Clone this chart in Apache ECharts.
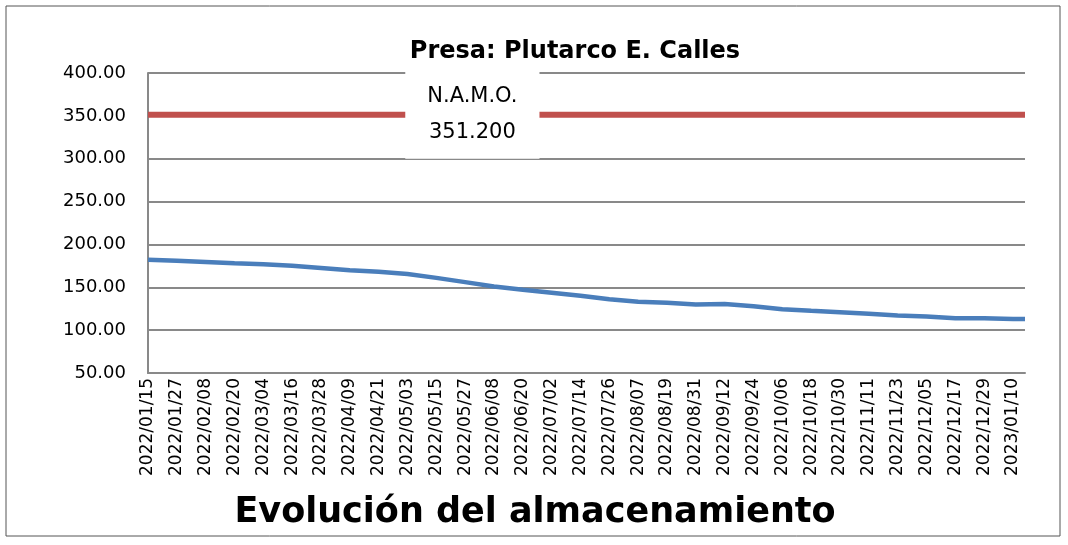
<!DOCTYPE html>
<html><head><meta charset="utf-8">
<script src="https://cdn.jsdelivr.net/npm/echarts@6/dist/echarts.min.js"></script>
<style>html,body{margin:0;background:#fff}#c{width:1068px;height:545px}</style>
</head><body><div id="c"></div>
<script>
// Daily categories 2022/01/15 .. 2023/01/15
const startDate = new Date(Date.UTC(2022,0,15));
const dayCount = 366;
const categories = [];
for (let i=0;i<dayCount;i++){const d=new Date(startDate.getTime()+i*86400000);
 categories.push(d.getUTCFullYear()+'/'+String(d.getUTCMonth()+1).padStart(2,'0')+'/'+String(d.getUTCDate()).padStart(2,'0'));}
// Storage values read at each labelled date (every 12 days) plus final day
const sampleIndex = [0,12,24,36,48,60,72,84,96,108,120,132,144,156,168,180,192,204,216,228,240,252,264,276,288,300,312,324,336,348,360,365];
const sampleValues = [182,181,179.5,178,177,175,172.5,170,168,165.5,161,156,151,147,143.5,140,136,133,132,130,130.5,128,124.5,122.5,121,119,117,116,114,114,113,113];
const namoValue = 351.2;
const namoLabel = 'N.A.M.O.\n351.200';

const storage = new Array(dayCount).fill(null);
sampleIndex.forEach((ix,k)=>storage[ix]=sampleValues[k]);
const namo = categories.map(()=>namoValue);
const labelIdx = 135;

const chart = echarts.init(document.getElementById('c'));
chart.setOption({
 animation:false,
 title:[{text:'Presa: Plutarco E. Calles',left:570,top:35,textAlign:'center',textStyle:{fontFamily:'DejaVu Sans',fontSize:24,fontWeight:'bold',color:'#000'}},
        {text:'Evolución del almacenamiento',left:530,top:490,textAlign:'center',textStyle:{fontFamily:'DejaVu Sans',fontSize:35,fontWeight:'bold',color:'#000'}}],
 graphic:[{type:'rect',shape:{x:6,y:6,width:1054,height:530},style:{fill:'none',stroke:'#555',lineWidth:1}}],
 grid:{left:148,right:43,top:73,bottom:172},
 xAxis:{type:'category',data:categories,boundaryGap:false,
  axisLine:{lineStyle:{color:'#898989',width:2}},axisTick:{show:false},
  axisLabel:{interval:11,rotate:90,fontFamily:'DejaVu Sans',fontSize:17,color:'#000',margin:5},
  splitLine:{show:false}},
 yAxis:{type:'value',min:50,max:400,interval:50,
  axisLine:{show:true,lineStyle:{color:'#898989',width:2}},axisTick:{show:false},
  axisLabel:{formatter:v=>v.toFixed(2),fontFamily:'DejaVu Sans',fontSize:18,color:'#000',margin:22},
  splitLine:{lineStyle:{color:'#898989',width:2}}},
 series:[
  {type:'line',data:namo,symbol:'none',lineStyle:{color:'#c0504d',width:6},
   markPoint:{symbol:'rect',symbolSize:1,itemStyle:{color:'rgba(0,0,0,0)'},
    data:[{coord:[labelIdx,namoValue],value:namoValue}],
    label:{show:true,formatter:namoLabel,position:'inside',color:'#000',fontFamily:'DejaVu Sans',fontSize:21,lineHeight:36,
      backgroundColor:'#fff',padding:[8,22,8,22]}}},
  {type:'line',data:storage,connectNulls:true,symbol:'none',smooth:false,lineStyle:{color:'#4a7ebb',width:4.5}}
 ]
});
</script></body></html>
